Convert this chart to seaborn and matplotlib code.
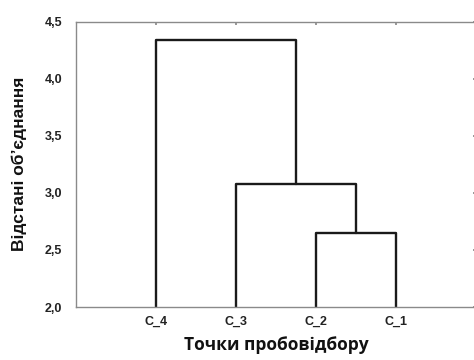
import matplotlib
matplotlib.use("Agg")
import matplotlib.pyplot as plt
import seaborn as sns
import pandas as pd
from matplotlib.ticker import FuncFormatter, FixedLocator

# Data
leaves = ["C_4", "C_3", "C_2", "C_1"]
# merges: (left member, right member, height)
merge_left = ["C_2", "C_3", "C_4"]
merge_right = ["C_1", "M1", "M2"]
merge_heights = [2.645, 3.08, 4.335]
y_ticks = [2.0, 2.5, 3.0, 3.5, 4.0, 4.5]

sns.set_theme(style="white")
plt.rcParams['font.family'] = ['Liberation Sans', 'DejaVu Sans']

# Build dendrogram segments
pos = {name: i + 1 for i, name in enumerate(leaves)}
hgt = {name: 0.0 for name in leaves}
rows = []
for k, (a, b, h) in enumerate(zip(merge_left, merge_right, merge_heights)):
    xa, xb = pos[a], pos[b]
    pts = [(xa, hgt[a]), (xa, h), (xb, h), (xb, hgt[b])]
    for j, (x, y) in enumerate(pts):
        rows.append({"seg": k, "order": j, "x": x, "y": y})
    name = f"M{k+1}"
    pos[name] = (xa + xb) / 2
    hgt[name] = h
df = pd.DataFrame(rows)

fig = plt.figure(figsize=(4.74, 3.6), dpi=100)
ax_l, ax_b, ax_w, ax_h = 76, 53, 400, 285.5
ax = fig.add_axes([ax_l / 474, ax_b / 360, ax_w / 474, ax_h / 360])

sns.lineplot(data=df, x="x", y="y", units="seg", estimator=None, sort=False,
             color="#1a1a1a", linewidth=1.7, ax=ax, legend=False)

ax.set_xlim(0, 5)
ax.set_ylim(2.0, 4.5)
ax.xaxis.set_major_locator(FixedLocator(list(range(1, len(leaves) + 1))))
ax.set_xticklabels(leaves)
ax.yaxis.set_major_locator(FixedLocator(y_ticks))
ax.yaxis.set_major_formatter(FuncFormatter(lambda v, p: f"{v:.1f}".replace(".", ",")))

for s in ax.spines.values():
    s.set_color("#8a8a8a")
    s.set_linewidth(1.0)
    s.set_visible(True)

ax.tick_params(axis="both", which="both", direction="in", length=2, color="#8a8a8a",
               labelsize=9, left=False, bottom=False, right=True, top=True,
               labelright=False, labeltop=False)
ax.tick_params(axis="y", pad=10)
ax.tick_params(axis="x", pad=6)
for lbl in ax.get_xticklabels() + ax.get_yticklabels():
    lbl.set_fontweight("bold")
    lbl.set_color("#222222")

ax.set_xlabel("Точки пробовідбору", fontsize=12.5, fontweight="bold",
              family=["Open Sans", "DejaVu Sans"], color="#111111", va="center")
ax.set_ylabel("Відстані об’єднання", fontsize=12.5, fontweight="bold", color="#111111",
              va="center")
xlabel_y_px = 345
ylabel_x_px = 19
ax.xaxis.set_label_coords(0.5, (360 - xlabel_y_px - ax_b) / ax_h)
ax.yaxis.set_label_coords((ylabel_x_px - ax_l) / ax_w, 0.5)
ax.grid(False)

fig.savefig("out.png", dpi=100)
